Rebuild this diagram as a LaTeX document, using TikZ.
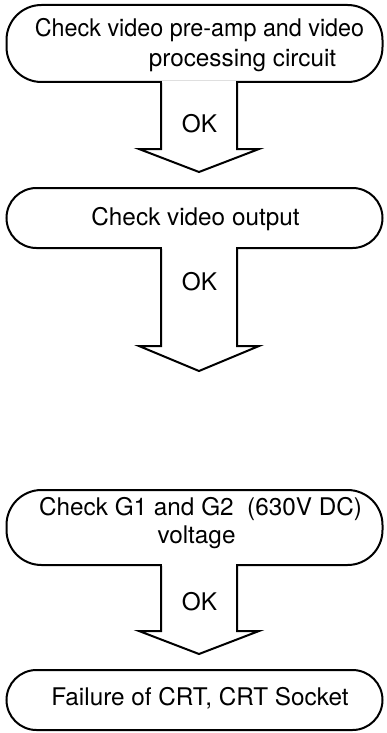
\documentclass[tikz,border=0pt]{standalone}
\usepackage{fontspec}
\setmainfont{TeX Gyre Heros}
\usetikzlibrary{calc}
\newcommand{\blockarr}[3]{% #1 top, #2 tip, #3 head height
  \fill[white] ($(#1)+(-37.1,-2)$) rectangle ($(#1)+(37.1,2)$);
  \draw[outline] ($(#1)+(-38,0)$) -- ($(#2)+(-38,-#3)$) -- ($(#2)+(-60,-#3)$) -- (#2)
    -- ($(#2)+(60,-#3)$) -- ($(#2)+(38,-#3)$) -- ($(#1)+(38,0)$);
}
\begin{document}
\begin{tikzpicture}[x=1pt,y=-1pt,
  box/.style={draw, line width=2pt, rounded corners=30pt, minimum width=376pt, inner sep=0pt},
  txt/.style={anchor=base, inner sep=0pt, font=\fontsize{24.3}{28}\selectfont},
  outline/.style={draw, line width=2pt, line join=miter}]
\useasboundingbox (0,0) rectangle (386,733);
\node[box, rounded corners=35pt, minimum height=77pt] (b1) at (194.5,43.5) {};
\node[box, minimum height=60pt] (b2) at (194.5,218) {};
\node[box, rounded corners=35pt, minimum height=75pt] (b3) at (194.5,527.5) {};
\node[box, minimum height=60pt] (b4) at (194.5,700) {};
\coordinate (a1t) at ($(b1.south)+(4.5,0)$);
\coordinate (a1h) at ($(b2.north)+(4.5,-15)$);
\coordinate (a2t) at ($(b2.south)+(4.5,0)$);
\coordinate (a2h) at ($(b2.south)+(4.5,122)$);
\coordinate (a3t) at ($(b3.south)+(4.5,0)$);
\coordinate (a3h) at ($(b4.north)+(4.5,-15)$);
\blockarr{a1t}{a1h}{23}
\blockarr{a2t}{a2h}{25}
\blockarr{a3t}{a3h}{23}
\node[txt] (t1a) at (199.5,37) {\scalebox{0.96}[1]{Check video pre-amp and video}};
\node[txt] (t1b) at (242.5,67) {processing circuit};
\node[txt] (t2) at (195.5,225) {Check video output};
\node[txt] (t3a) at (200.5,515) {Check G1 and G2 \ (630V DC)};
\node[txt] (t3b) at (196.5,543) {voltage};
\node[txt] (t4) at (200,705) {Failure of CRT, CRT Socket};
\node[txt] (ok1) at (199.5,132) {OK};
\node[txt] (ok2) at (199.5,290) {OK};
\node[txt] (ok3) at (199.5,610) {OK};
\end{tikzpicture}
\end{document}
